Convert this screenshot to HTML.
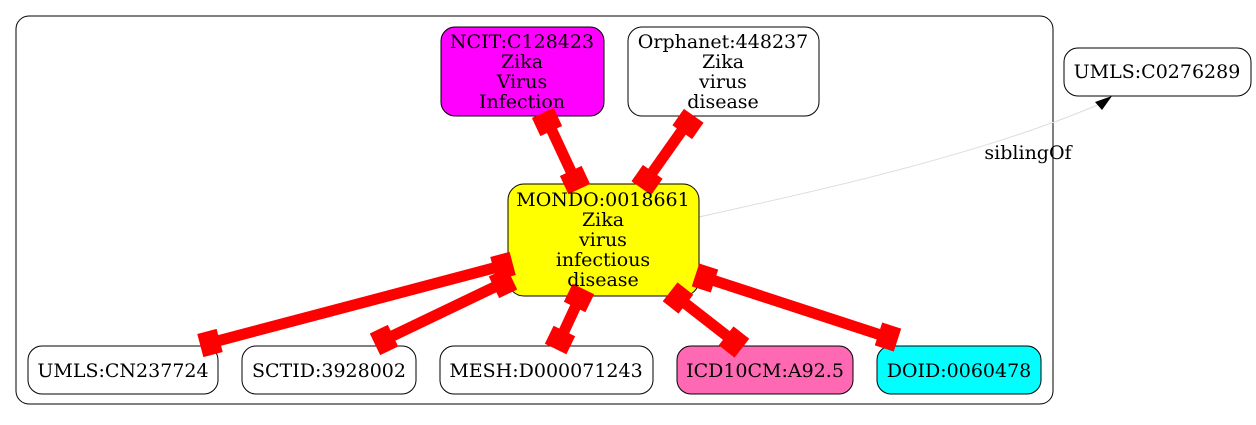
<!DOCTYPE html>
<html><head><meta charset="utf-8"><style>
html,body{margin:0;padding:0;background:#fff;}
svg text{font-family:"DejaVu Serif","Liberation Serif",serif;font-size:19px;fill:#000;}
</style></head><body>
<svg width="1256" height="420" viewBox="0 0 1256 420" xmlns="http://www.w3.org/2000/svg">
<rect x="16" y="16" width="1037" height="388" rx="13" fill="#fff" stroke="#000" stroke-width="1"/>
<!-- sibling edge -->
<path d="M699,217 C820,190 980,155 1100,104" fill="none" stroke="#ddd" stroke-width="1"/>
<polygon points="1095,102 1112,96 1102,110" fill="#000"/>
<text x="1028" y="159" text-anchor="middle">siblingOf</text>
<!-- nodes -->
<g stroke="#000" stroke-width="1">
<rect x="441" y="27" width="163" height="89" rx="14" fill="#ff00ff"/>
<rect x="628" y="27" width="191" height="89" rx="14" fill="#fff"/>
<rect x="1064" y="48" width="187" height="48" rx="14" fill="#fff"/>
<rect x="508" y="184" width="191" height="112" rx="16" fill="#ffff00"/>
<rect x="28" y="346" width="190" height="48" rx="14" fill="#fff"/>
<rect x="242" y="346" width="174" height="48" rx="14" fill="#fff"/>
<rect x="440" y="346" width="213" height="48" rx="14" fill="#fff"/>
<rect x="677" y="346" width="176" height="48" rx="14" fill="#ff69b4"/>
<rect x="877" y="346" width="164" height="48" rx="14" fill="#00ffff"/>
</g>
<!-- edges -->
<g stroke="#ff0000" stroke-width="11" fill="none">
<line x1="547" y1="120" x2="575" y2="180"/>
<line x1="688" y1="122" x2="647" y2="180"/>
<line x1="210" y1="343" x2="505" y2="265"/>
<line x1="384" y1="340" x2="505" y2="282"/>
<line x1="560" y1="340" x2="580" y2="297"/>
<line x1="736" y1="343" x2="677" y2="297"/>
<line x1="890" y1="338" x2="703" y2="277"/>
</g>
<g fill="#ff0000">
<rect x="-10" y="-12" width="20" height="24" transform="translate(547,122) rotate(65)"/>
<rect x="-10" y="-12" width="20" height="24" transform="translate(575,180) rotate(65)"/>
<rect x="-10" y="-12" width="20" height="24" transform="translate(688,124) rotate(125)"/>
<rect x="-10" y="-12" width="20" height="24" transform="translate(647,180) rotate(125)"/>
<rect x="-10" y="-12" width="20" height="24" transform="translate(210,343) rotate(-14.8)"/>
<rect x="-10" y="-12" width="20" height="24" transform="translate(503,266) rotate(-14.8)"/>
<rect x="-10" y="-12" width="20" height="24" transform="translate(384,340) rotate(-25.6)"/>
<rect x="-10" y="-12" width="20" height="24" transform="translate(503,283) rotate(-25.6)"/>
<rect x="-10" y="-12" width="20" height="24" transform="translate(560,340) rotate(-64)"/>
<rect x="-10" y="-12" width="20" height="24" transform="translate(579,298) rotate(-64)"/>
<rect x="-10" y="-12" width="20" height="24" transform="translate(734,342) rotate(-142)"/>
<rect x="-10" y="-12" width="20" height="24" transform="translate(678,298) rotate(-142)"/>
<rect x="-10" y="-12" width="20" height="24" transform="translate(888,337) rotate(-162)"/>
<rect x="-10" y="-12" width="20" height="24" transform="translate(705,278) rotate(-162)"/>
</g>
<!-- labels -->
<g text-anchor="middle">
<text x="522" y="48">NCIT:C128423</text>
<text x="522" y="68">Zika</text>
<text x="522" y="88">Virus</text>
<text x="522" y="108">Infection</text>
<text x="723" y="48">Orphanet:448237</text>
<text x="723" y="68">Zika</text>
<text x="723" y="88">virus</text>
<text x="723" y="108">disease</text>
<text x="1157" y="78">UMLS:C0276289</text>
<text x="603" y="206">MONDO:0018661</text>
<text x="603" y="226">Zika</text>
<text x="603" y="246">virus</text>
<text x="603" y="266">infectious</text>
<text x="603" y="286">disease</text>
<text x="123" y="377">UMLS:CN237724</text>
<text x="329" y="377">SCTID:3928002</text>
<text x="546" y="377">MESH:D000071243</text>
<text x="765" y="377">ICD10CM:A92.5</text>
<text x="959" y="377">DOID:0060478</text>
</g>
</svg>
</body></html>
